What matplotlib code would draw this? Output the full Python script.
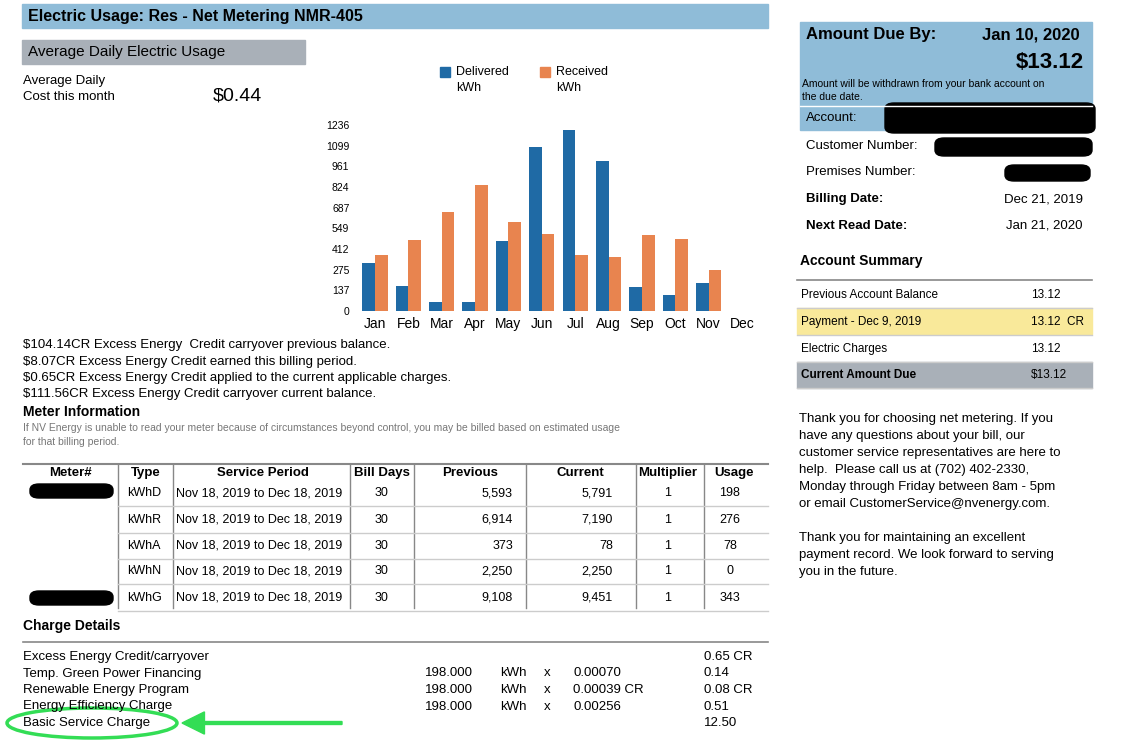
import matplotlib
matplotlib.use("Agg")
import matplotlib.pyplot as plt
from matplotlib.patches import Rectangle, FancyBboxPatch, Ellipse, FancyArrow
import numpy as np

months = ["Jan","Feb","Mar","Apr","May","Jun","Jul","Aug","Sep","Oct","Nov","Dec"]
delivered = [319,168,58,63,467,1088,1205,998,160,108,189,0]
received = [373,472,656,836,591,515,375,362,508,479,270,0]
yticks = [0,137,275,412,549,687,824,961,1099,1236]

W, H = 1123, 741
fig = plt.figure(figsize=(W/100, H/100), dpi=100)
plt.rcParams['font.family'] = ['Liberation Sans', 'DejaVu Sans']

def fx(x): return x / W
def fy(y): return 1 - y / H
def T(x, y, s, size=9.5, **kw):
    kw.setdefault('va', 'center')
    fig.text(fx(x), fy(y), s, fontsize=size, **kw)
def R(x, y, w, h, **kw):
    fig.add_artist(Rectangle((fx(x), fy(y+h)), w/W, h/H, transform=fig.transFigure, **kw))
def L(x1, y1, x2, y2, c='#999999', lw=1):
    fig.add_artist(plt.Line2D([fx(x1), fx(x2)], [fy(y1), fy(y2)], color=c, lw=lw, transform=fig.transFigure))
def blk(x, y, w, h):
    fig.add_artist(FancyBboxPatch((fx(x), fy(y+h)), w/W, h/H, boxstyle="round,pad=0,rounding_size=0.008",
                                  transform=fig.transFigure, color='black'))

blue = '#1f6aa5'; orange = '#e8844f'; hdr = '#8fbcd8'

# header
R(22, 4, 746, 24, color=hdr)
T(28, 16, "Electric Usage: Res - Net Metering NMR-405", 11.5, weight='bold')
R(22, 40, 283, 24, color='#a9b0b8')
T(28, 52, "Average Daily Electric Usage", 11)
T(23, 81, "Average Daily", 9.5)
T(23, 97, "Cost this month", 9.5)
T(213, 96, "$0.44", 14)

# legend
R(440, 67, 10, 10, color=blue); T(456, 72, "Delivered", 9); T(456, 88, "kWh", 9)
R(540, 67, 10, 10, color=orange); T(556, 72, "Received", 9); T(556, 88, "kWh", 9)

# chart
ax = fig.add_axes([fx(355), fy(311), (762-355)/W, (311-125)/H])
x = np.arange(len(months))
bw = 0.38
ax.bar(x - bw/2, delivered, bw, color=blue)
ax.bar(x + bw/2, received, bw, color=orange)
ax.set_ylim(0, 1236)
ax.set_xlim(-0.6, 11.6)
ax.set_yticks(yticks)
ax.set_yticklabels([str(v) for v in yticks], fontsize=7.5)
ax.set_xticks(x)
ax.set_xticklabels(months, fontsize=10)
ax.tick_params(length=0, pad=4)
for s in ax.spines.values(): s.set_visible(False)

lines = ["$104.14CR Excess Energy  Credit carryover previous balance.",
         "$8.07CR Excess Energy Credit earned this billing period.",
         "$0.65CR Excess Energy Credit applied to the current applicable charges.",
         "$111.56CR Excess Energy Credit carryover current balance."]
for i, s in enumerate(lines):
    T(23, 345 + i*16.5, s, 9.5)
T(23, 412, "Meter Information", 10, weight='bold')
T(23, 428, "If NV Energy is unable to read your meter because of circumstances beyond control, you may be billed based on estimated usage", 7.5, color='#777777')
T(23, 442, "for that billing period.", 7.5, color='#777777')

# meter table
L(23, 464, 768, 464, c='#888888', lw=1.5)
cols = [118, 173, 350, 414, 526, 636, 704]
for c in cols: L(c, 464, c, 608, c='#888888')
heads = [(70, "Meter#"), (146, "Type"), (263, "Service Period"), (382, "Bill Days"), (470, "Previous"), (580, "Current"), (668, "Multiplier"), (734, "Usage")]
for hx, s in heads: T(hx, 473, s, 9.5, weight='bold', ha='center')
rows = [("kWhD", "5,593", "5,791", "198"), ("kWhR", "6,914", "7,190", "276"), ("kWhA", "373", "78", "78"),
        ("kWhN", "2,250", "2,250", "0"), ("kWhG", "9,108", "9,451", "343")]
ys = [493, 520, 546, 571, 598]
for yy, (t, p, c, u) in zip(ys, rows):
    T(127, yy, t, 9)
    T(176, yy, "Nov 18, 2019 to Dec 18, 2019", 9)
    T(382, yy, "30", 9, ha='center')
    T(513, yy, p, 9, ha='right')
    T(613, yy, c, 9, ha='right')
    T(668, yy, "1", 9, ha='center')
    T(730, yy, u, 9, ha='center')
    L(118, yy+13, 768, yy+13, c='#cccccc')
blk(30, 484, 83, 14)
blk(30, 591, 83, 14)

T(23, 626, "Charge Details", 10, weight='bold')
L(23, 642, 768, 642, c='#888888', lw=1.2)
charges = [("Excess Energy Credit/carryover", None, "0.65 CR"),
           ("Temp. Green Power Financing", "0.00070", "0.14"),
           ("Renewable Energy Program", "0.00039 CR", "0.08 CR"),
           ("Energy Efficiency Charge", "0.00256", "0.51"),
           ("Basic Service Charge", None, "12.50")]
for i, (n, r, a) in enumerate(charges):
    yy = 657 + i*16.5
    T(23, yy, n, 9.5)
    if r:
        T(425, yy, "198.000", 9.5); T(500, yy, "kWh", 9.5); T(544, yy, "x", 9.5); T(573, yy, r, 9.5)
    T(704, yy, a, 9.5)
fig.add_artist(Ellipse((fx(92), fy(723)), 170/W, 30/H, transform=fig.transFigure, fill=False, ec='#33dd55', lw=2.5))
fig.add_artist(FancyArrow(fx(342), fy(723), -(342-182)/W, 0, width=0.004, head_width=0.03, head_length=0.02,
                          length_includes_head=True, color='#33dd55', transform=fig.transFigure))

# right panel
R(800, 22, 292, 108, color=hdr)
T(806, 35, "Amount Due By:", 12, weight='bold')
T(1080, 35, "Jan 10, 2020", 12, weight='bold', ha='right')
T(1084, 63, "$13.12", 16, weight='bold', ha='right')
T(802, 84, "Amount will be withdrawn from your bank account on", 7.5)
T(802, 97, "the due date.", 7.5)
L(800, 106, 1092, 106, c='#ffffff')
T(806, 118, "Account:", 9.5)
blk(885, 103, 210, 30)
T(806, 146, "Customer Number:", 9.5)
blk(935, 138, 157, 18)
T(806, 172, "Premises Number:", 9.5)
blk(1005, 165, 85, 16)
T(806, 199, "Billing Date:", 9.5, weight='bold'); T(1083, 199, "Dec 21, 2019", 9.5, ha='right')
T(806, 226, "Next Read Date:", 9.5, weight='bold'); T(1083, 226, "Jan 21, 2020", 9.5, ha='right')
T(800, 261, "Account Summary", 10, weight='bold')
L(797, 280, 1092, 280, c='#888888', lw=1.2)
R(797, 308, 295, 26, color='#f9e99a')
R(797, 362, 295, 26, color='#a9b0b8')
summ = [(295, "Previous Account Balance", "13.12", False), (322, "Payment - Dec 9, 2019", "13.12  CR", False),
        (349, "Electric Charges", "13.12", False), (375, "Current Amount Due", "$13.12", True)]
for yy, a, b, bold in summ:
    T(801, yy, a, 8.5, weight='bold' if bold else 'normal')
    T(1031, yy, b, 8.5)
    L(797, yy+13, 1092, yy+13, c='#cccccc')
msg = ["Thank you for choosing net metering. If you", "have any questions about your bill, our",
       "customer service representatives are here to", "help.  Please call us at (702) 402-2330,",
       "Monday through Friday between 8am - 5pm", "or email CustomerService@nvenergy.com.", "",
       "Thank you for maintaining an excellent", "payment record. We look forward to serving", "you in the future."]
for i, s in enumerate(msg):
    T(799, 419 + i*17, s, 9.5)

fig.savefig("out.png", dpi=100)
